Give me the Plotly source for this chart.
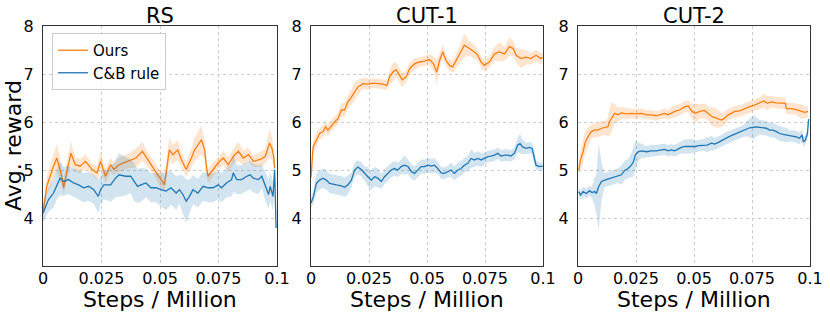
import plotly.graph_objects as go
from plotly.subplots import make_subplots

# ---------------- data (x in units of 10k steps; reward values) ----------------
titles = ["RS", "CUT-1", "CUT-2"]
x_ticks = [0, 0.025, 0.05, 0.075, 0.1]
x_tick_labels = ["0", "0.025", "0.05", "0.075", "0.1"]
y_ticks = [4, 5, 6, 7, 8]

rs_ours_x = [0, 0.16, 0.45, 0.59, 0.80, 0.88, 1.02, 1.19, 1.38, 1.59,
             1.81, 2.10, 2.31, 2.46, 2.67, 2.89, 3.03, 3.25, 3.61, 3.97,
             4.25, 4.47, 4.68, 4.90, 5.11, 5.19, 5.33, 5.40, 5.55, 5.76,
             5.91, 6.05, 6.12, 6.34, 6.48, 6.77, 6.91, 6.98, 7.05, 7.27,
             7.49, 7.70, 7.92, 8.13, 8.35, 8.56, 8.78, 8.99, 9.28, 9.50,
             9.68, 9.78, 9.86, 9.90]
rs_ours_y = [4.10, 4.66, 5.08, 5.25, 4.87, 4.63, 4.97, 5.35, 5.11, 5.08,
             5.18, 5.01, 4.94, 5.18, 4.87, 5.11, 5.01, 5.11, 5.18, 5.25,
             5.39, 5.22, 5.08, 4.90, 4.76, 4.69, 5.18, 5.42, 5.32, 5.42,
             5.22, 5.08, 5.01, 5.25, 5.42, 5.63, 5.42, 5.08, 4.87, 5.01,
             5.15, 5.25, 5.11, 5.28, 5.39, 5.25, 5.32, 5.18, 5.22, 5.28,
             5.56, 5.46, 5.28, 5.04]
rs_ours_sd = [0.10, 0.20, 0.25, 0.30, 0.20, 0.15, 0.20, 0.25, 0.15, 0.15,
              0.15, 0.12, 0.15, 0.20, 0.15, 0.15, 0.12, 0.15, 0.15, 0.20,
              0.20, 0.15, 0.15, 0.15, 0.20, 0.15, 0.25, 0.25, 0.20, 0.20,
              0.15, 0.15, 0.15, 0.20, 0.25, 0.30, 0.20, 0.20, 0.15, 0.15,
              0.12, 0.15, 0.15, 0.15, 0.20, 0.15, 0.15, 0.12, 0.15, 0.15,
              0.30, 0.25, 0.20, 0.20]

rs_cb_x = [0, 0.23, 0.45, 0.59, 0.73, 0.88, 1.09, 1.31, 1.52, 1.74,
           1.95, 2.17, 2.36, 2.46, 2.60, 2.89, 3.10, 3.25, 3.53, 3.75,
           3.89, 4.04, 4.18, 4.40, 4.61, 4.83, 5.04, 5.26, 5.47, 5.69,
           5.83, 5.98, 6.12, 6.26, 6.41, 6.62, 6.84, 7.05, 7.27, 7.49,
           7.63, 7.84, 8.06, 8.13, 8.28, 8.49, 8.71, 8.85, 8.99, 9.21,
           9.35, 9.50, 9.64, 9.71, 9.83, 9.90, 9.96]
rs_cb_y = [4.10, 4.38, 4.52, 4.69, 4.83, 4.76, 4.80, 4.73, 4.69, 4.63,
           4.66, 4.59, 4.45, 4.59, 4.69, 4.69, 4.83, 4.90, 4.87, 4.87,
           4.76, 4.66, 4.69, 4.73, 4.63, 4.63, 4.59, 4.56, 4.63, 4.52,
           4.59, 4.49, 4.35, 4.45, 4.59, 4.52, 4.66, 4.63, 4.63, 4.69,
           4.63, 4.73, 4.80, 4.94, 4.80, 4.80, 4.87, 4.90, 4.83, 4.80,
           4.87, 4.66, 4.49, 4.66, 4.45, 5.00, 3.79]
rs_cb_sd = [0.20, 0.25, 0.30, 0.30, 0.35, 0.30, 0.30, 0.30, 0.30, 0.30,
            0.30, 0.30, 0.35, 0.30, 0.30, 0.35, 0.40, 0.45, 0.40, 0.35,
            0.40, 0.35, 0.35, 0.30, 0.30, 0.30, 0.35, 0.40, 0.35, 0.35,
            0.30, 0.40, 0.45, 0.35, 0.30, 0.30, 0.30, 0.30, 0.30, 0.30,
            0.30, 0.30, 0.35, 0.40, 0.30, 0.30, 0.30, 0.30, 0.30, 0.30,
            0.25, 0.30, 0.30, 0.30, 0.30, 0.30, 0.20]

cut1_ours_x = [0, 0.09, 0.23, 0.37, 0.52, 0.63, 0.73, 0.88, 1.02, 1.16,
               1.31, 1.45, 1.59, 1.74, 1.88, 2.02, 2.24, 2.45, 2.67, 2.88,
               3.10, 3.27, 3.39, 3.53, 3.67, 3.82, 3.93, 4.10, 4.25, 4.46,
               4.68, 4.89, 5.11, 5.28, 5.42, 5.54, 5.68, 5.82, 5.97, 6.11,
               6.26, 6.47, 6.61, 6.83, 7.04, 7.19, 7.33, 7.47, 7.69, 7.91,
               8.12, 8.34, 8.55, 8.72, 8.84, 9.05, 9.27, 9.48, 9.70, 9.91,
               9.98]
cut1_ours_y = [4.85, 5.48, 5.62, 5.76, 5.80, 5.90, 5.83, 5.93, 6.00, 6.07,
               6.25, 6.25, 6.42, 6.52, 6.63, 6.73, 6.80, 6.79, 6.81, 6.80,
               6.79, 6.76, 6.94, 7.04, 7.09, 6.97, 6.88, 6.94, 7.11, 7.21,
               7.25, 7.27, 7.30, 7.21, 7.04, 7.28, 7.46, 7.28, 7.18, 7.15,
               7.28, 7.46, 7.60, 7.53, 7.46, 7.39, 7.25, 7.18, 7.25, 7.42,
               7.46, 7.42, 7.57, 7.53, 7.39, 7.32, 7.35, 7.32, 7.39, 7.32,
               7.35]
cut1_ours_sd = [0.15, 0.15, 0.15, 0.12, 0.12, 0.12, 0.12, 0.12, 0.12, 0.12,
                0.15, 0.15, 0.15, 0.15, 0.20, 0.15, 0.12, 0.12, 0.10, 0.10,
                0.10, 0.10, 0.15, 0.20, 0.15, 0.15, 0.15, 0.12, 0.12, 0.12,
                0.10, 0.10, 0.12, 0.15, 0.25, 0.15, 0.15, 0.12, 0.12, 0.12,
                0.15, 0.20, 0.25, 0.15, 0.15, 0.12, 0.12, 0.12, 0.12, 0.15,
                0.20, 0.15, 0.20, 0.15, 0.15, 0.20, 0.15, 0.12, 0.12, 0.12,
                0.10]

cut1_cb_x = [0, 0.11, 0.23, 0.37, 0.52, 0.66, 0.80, 0.95, 1.09, 1.31,
             1.45, 1.59, 1.74, 1.88, 2.02, 2.17, 2.31, 2.45, 2.60, 2.74,
             2.88, 3.03, 3.17, 3.31, 3.46, 3.60, 3.74, 3.89, 4.03, 4.18,
             4.32, 4.46, 4.61, 4.75, 4.89, 5.04, 5.18, 5.32, 5.47, 5.61,
             5.75, 5.90, 6.04, 6.18, 6.33, 6.47, 6.61, 6.76, 6.90, 7.04,
             7.19, 7.33, 7.47, 7.62, 7.76, 7.91, 8.05, 8.19, 8.34, 8.48,
             8.62, 8.77, 8.91, 9.01, 9.12, 9.27, 9.41, 9.53, 9.63, 9.70,
             9.84, 9.99]
cut1_cb_y = [4.31, 4.45, 4.72, 4.79, 4.83, 4.79, 4.72, 4.71, 4.69, 4.67,
             4.64, 4.69, 4.79, 5.00, 5.06, 5.01, 4.93, 4.86, 4.79, 4.86,
             4.83, 4.76, 4.86, 4.93, 5.00, 5.03, 5.00, 5.07, 5.10, 5.07,
             4.97, 4.93, 5.00, 5.07, 5.07, 5.10, 5.08, 5.10, 5.03, 4.94,
             4.93, 4.97, 5.00, 4.93, 5.00, 5.03, 5.10, 5.14, 5.24, 5.21,
             5.24, 5.21, 5.24, 5.28, 5.29, 5.31, 5.35, 5.29, 5.31, 5.31,
             5.29, 5.35, 5.52, 5.55, 5.48, 5.45, 5.47, 5.45, 5.24, 5.10,
             5.07, 5.08]
cut1_cb_sd = [0.10, 0.15, 0.20, 0.20, 0.20, 0.20, 0.20, 0.20, 0.20, 0.20,
              0.20, 0.20, 0.15, 0.15, 0.15, 0.15, 0.15, 0.20, 0.20, 0.20,
              0.20, 0.15, 0.15, 0.15, 0.15, 0.15, 0.15, 0.15, 0.20, 0.15,
              0.15, 0.15, 0.15, 0.15, 0.15, 0.15, 0.15, 0.15, 0.12, 0.12,
              0.12, 0.12, 0.15, 0.15, 0.15, 0.15, 0.15, 0.15, 0.20, 0.15,
              0.15, 0.15, 0.12, 0.12, 0.12, 0.12, 0.12, 0.12, 0.12, 0.12,
              0.12, 0.12, 0.15, 0.20, 0.15, 0.12, 0.12, 0.12, 0.15, 0.10,
              0.08, 0.08]

cut2_ours_x = [0.03, 0.11, 0.22, 0.32, 0.43, 0.57, 0.72, 0.86, 1.01, 1.18,
               1.29, 1.36, 1.47, 1.58, 1.72, 1.87, 2.08, 2.30, 2.51, 2.73,
               2.95, 3.16, 3.38, 3.56, 3.74, 3.88, 4.02, 4.17, 4.38, 4.60,
               4.77, 4.91, 5.06, 5.24, 5.46, 5.60, 5.78, 5.96, 6.18, 6.32,
               6.47, 6.61, 6.75, 6.97, 7.18, 7.40, 7.61, 7.83, 8.02, 8.16,
               8.33, 8.55, 8.76, 8.94, 8.98, 9.20, 9.41, 9.63, 9.77, 9.91]
cut2_ours_y = [5.00, 5.21, 5.38, 5.59, 5.69, 5.80, 5.83, 5.83, 5.87, 5.88,
               5.90, 6.01, 6.11, 6.18, 6.15, 6.19, 6.17, 6.18, 6.17, 6.18,
               6.15, 6.15, 6.13, 6.15, 6.18, 6.15, 6.19, 6.22, 6.25, 6.32,
               6.33, 6.22, 6.18, 6.22, 6.24, 6.18, 6.11, 6.08, 6.04, 6.08,
               6.15, 6.18, 6.22, 6.23, 6.28, 6.32, 6.35, 6.39, 6.44, 6.39,
               6.42, 6.40, 6.39, 6.39, 6.28, 6.28, 6.26, 6.22, 6.20, 6.22]
cut2_ours_sd = [0.15, 0.20, 0.25, 0.25, 0.20, 0.15, 0.15, 0.15, 0.15, 0.15,
                0.20, 0.30, 0.30, 0.20, 0.15, 0.12, 0.12, 0.10, 0.10, 0.10,
                0.10, 0.10, 0.10, 0.10, 0.10, 0.10, 0.12, 0.12, 0.12, 0.12,
                0.12, 0.15, 0.20, 0.15, 0.15, 0.15, 0.20, 0.20, 0.15, 0.15,
                0.12, 0.12, 0.12, 0.12, 0.12, 0.12, 0.12, 0.12, 0.15, 0.15,
                0.12, 0.12, 0.12, 0.12, 0.12, 0.12, 0.12, 0.15, 0.12, 0.12]

cut2_cb_x = [0.03, 0.11, 0.22, 0.36, 0.50, 0.60, 0.72, 0.79, 0.89, 1.01,
             1.15, 1.29, 1.44, 1.58, 1.72, 1.87, 2.01, 2.16, 2.30, 2.39,
             2.47, 2.59, 2.73, 2.95, 3.16, 3.38, 3.59, 3.74, 3.88, 4.02,
             4.17, 4.31, 4.45, 4.60, 4.74, 4.91, 5.06, 5.20, 5.39, 5.57,
             5.75, 5.89, 6.03, 6.18, 6.35, 6.49, 6.68, 6.82, 6.97, 7.11,
             7.26, 7.40, 7.54, 7.69, 7.83, 7.97, 8.12, 8.26, 8.41, 8.55,
             8.69, 8.84, 8.98, 9.12, 9.27, 9.41, 9.55, 9.66, 9.71, 9.80,
             9.89, 9.94]
cut2_cb_y = [4.55, 4.48, 4.55, 4.51, 4.57, 4.53, 4.55, 4.51, 4.65, 4.76,
             4.79, 4.81, 4.83, 4.85, 4.88, 4.90, 4.99, 5.03, 5.10, 5.17,
             5.31, 5.38, 5.40, 5.38, 5.40, 5.40, 5.42, 5.43, 5.40, 5.42,
             5.40, 5.44, 5.47, 5.49, 5.49, 5.50, 5.49, 5.51, 5.52, 5.52,
             5.56, 5.54, 5.57, 5.61, 5.66, 5.69, 5.73, 5.76, 5.78, 5.81,
             5.85, 5.88, 5.89, 5.90, 5.89, 5.88, 5.87, 5.83, 5.83, 5.80,
             5.76, 5.74, 5.73, 5.71, 5.71, 5.69, 5.66, 5.73, 5.59, 5.62,
             5.76, 6.06]
cut2_cb_sd = [0.08, 0.10, 0.10, 0.10, 0.10, 0.12, 0.30, 0.40, 0.90, 0.40,
              0.15, 0.15, 0.15, 0.15, 0.15, 0.20, 0.20, 0.20, 0.25, 0.30,
              0.30, 0.20, 0.15, 0.12, 0.12, 0.12, 0.12, 0.12, 0.12, 0.12,
              0.12, 0.12, 0.12, 0.15, 0.15, 0.15, 0.12, 0.12, 0.12, 0.15,
              0.15, 0.12, 0.12, 0.12, 0.12, 0.12, 0.12, 0.12, 0.12, 0.12,
              0.15, 0.20, 0.25, 0.20, 0.15, 0.15, 0.15, 0.15, 0.15, 0.15,
              0.15, 0.15, 0.15, 0.12, 0.12, 0.12, 0.12, 0.12, 0.10, 0.10,
              0.10, 0.10]

# ---------------- figure ----------------
W, H = 830, 317
ORANGE, BLUE = "#ff7f0e", "#1f77b4"
ORANGE_FILL, BLUE_FILL = "rgba(255,127,14,0.2)", "rgba(31,119,180,0.2)"
FONT = "DejaVu Sans"

panels = [
    (rs_ours_x, rs_ours_y, rs_ours_sd, rs_cb_x, rs_cb_y, rs_cb_sd),
    (cut1_ours_x, cut1_ours_y, cut1_ours_sd, cut1_cb_x, cut1_cb_y, cut1_cb_sd),
    (cut2_ours_x, cut2_ours_y, cut2_ours_sd, cut2_cb_x, cut2_cb_y, cut2_cb_sd),
]

fig = make_subplots(rows=1, cols=3)

for i, (ox, oy, osd, bx, by, bsd) in enumerate(panels):
    col = i + 1
    for xs, ys, sd, color, fillc, name in [
        (ox, oy, osd, ORANGE, ORANGE_FILL, "Ours"),
        (bx, by, bsd, BLUE, BLUE_FILL, "C&B rule"),
    ]:
        assert len(xs) == len(ys) == len(sd)
        x = [v * 0.01 for v in xs]
        up = [a + b for a, b in zip(ys, sd)]
        lo = [a - b for a, b in zip(ys, sd)]
        fig.add_trace(go.Scatter(x=x + x[::-1], y=up + lo[::-1], fill="toself",
                                 fillcolor=fillc, line=dict(width=0),
                                 mode="lines", hoverinfo="skip", showlegend=False),
                      row=1, col=col)
        fig.add_trace(go.Scatter(x=x, y=ys, mode="lines", name=name,
                                 line=dict(color=color, width=1.3),
                                 showlegend=(i == 0)),
                      row=1, col=col)

px_domains = [(43, 277), (311, 543), (578, 810)]
top_px, bot_px = 26, 266
axis_common = dict(
    showgrid=True, gridcolor="#cccccc", griddash="dot", gridwidth=1,
    showline=True, linecolor="#333333", linewidth=1, mirror=True,
    ticks="", ticklen=0, automargin=False,
    tickfont=dict(size=16, color="black", family=FONT), zeroline=False)
for i, (a, b) in enumerate(px_domains):
    sfx = "" if i == 0 else str(i + 1)
    fig.layout["xaxis" + sfx].update(
        domain=[a / W, b / W], range=[0, 0.1], tickvals=x_ticks, ticktext=x_tick_labels,
        ticklabelstandoff=-2, **axis_common)
    fig.layout["yaxis" + sfx].update(
        domain=[1 - bot_px / H, 1 - top_px / H], range=[3, 8], tickvals=y_ticks,
        ticklabelstandoff=5, **axis_common)
    fig.add_annotation(text=titles[i], x=(a + b) / 2 / W, y=1 - 16 / H, xref="paper", yref="paper",
                       showarrow=False, xanchor="center", yanchor="middle",
                       font=dict(size=21, color="black", family=FONT))
    fig.add_annotation(text="Steps / Million", x=(a + b) / 2 / W, y=1 - 299 / H, xref="paper",
                       yref="paper", showarrow=False, xanchor="center", yanchor="middle",
                       font=dict(size=22, color="black", family=FONT))

fig.add_annotation(text="Avg. reward", x=13 / W, y=1 - 146 / H, xref="paper", yref="paper",
                   showarrow=False, textangle=-90, xanchor="center", yanchor="middle",
                   font=dict(size=22, color="black", family=FONT))

fig.update_layout(
    width=W, height=H, margin=dict(l=0, r=0, t=0, b=0),
    plot_bgcolor="white", paper_bgcolor="white",
    font=dict(family=FONT, color="black"),
    legend=dict(x=52 / W, y=1 - 33 / H, xanchor="left", yanchor="top",
                bgcolor="rgba(255,255,255,0.85)", bordercolor="#cccccc", borderwidth=1,
                font=dict(size=15, family=FONT, color="black"), tracegroupgap=0),
)

fig.write_html("out.html", config={"displayModeBar": False},
               post_script="document.body.style.margin='0px';")
